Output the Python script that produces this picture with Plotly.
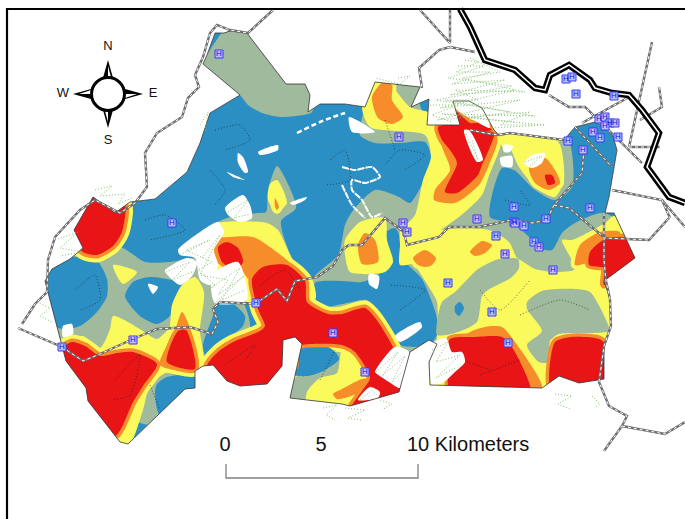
import plotly.graph_objects as go

OUTLINE = [(203,64),(207,55),(215,33),(224,33),(230,31),(247,33),(286,84),(305,84),(310,95),(308,112),(320,104),(345,104),(365,107),(375,82),(420,87),(411,107),(429,99),(427,125),(460,125),(453,101),(469,101),(482,108),(494,130),(499,135),(510,133),(564,140),(575,127),(595,122),(605,127),(612,133),(617,150),(612,180),(609,197),(605,213),(614,213),(635,258),(604,281),(610,299),(611,326),(604,346),(604,379),(579,383),(559,376),(542,388),(430,385),(429,362),(437,344),(429,340),(410,352),(399,392),(350,406),(342,404),(290,398),(302,344),(295,337),(283,340),(282,366),(267,384),(240,386),(227,381),(213,365),(203,366),(195,371),(195,388),(185,389),(128,444),(120,442),(88,401),(86,388),(66,361),(49,296),(45,281),(52,269),(70,259),(83,248),(74,230),(93,197),(115,213),(130,202),(155,199),(187,172),(200,143),(210,113),(240,95)]

SAGE = [
 [(203,64),(207,55),(220,35),(224,30),(247,30),(290,80),(315,84),(312,112),(296,116),(280,117),(262,113),(248,105),(240,95)],
 [(45,270),(75,255),(120,247),(145,262),(170,262),(200,258),(240,295),(250,330),(215,372),(195,395),(155,425),(60,385),(40,330)],
 [(277,166),(284,176),(296,208),(281,221),(293,260),(313,282),(320,300),(240,300),(190,250),(203,230),(227,218),(257,213),(266,212),(268,190)],
 [(365,107),(375,78),(424,84),(420,105),(430,120),(494,130),(566,135),(572,187),(555,200),(535,190),(514,170),(502,168),(490,217),(512,223),(529,237),(539,248),(552,250),(562,233),(575,223),(605,213),(640,250),(640,415),(285,415),(285,340),(310,345),(312,280),(338,255),(345,225),(352,212),(375,190),(399,197),(410,203),(424,180),(431,157),(425,142),(399,143),(375,143),(360,135)],
]
BLUE_LOBES = [
 [(40,272),(72,257),(97,261),(107,279),(107,296),(97,312),(80,326),(62,329),(45,320)],
 [(125,296),(133,282),(150,277),(182,284),(180,296),(170,316),(157,324),(140,316)],
 [(203,346),(213,316),(217,304),(233,304),(245,316),(243,326),(227,339),(213,352),(208,364)],
 [(155,392),(157,384),(167,377),(200,375),(200,395),(160,415)],
 [(292,374),(298,343),(317,342),(333,350),(339,359),(323,371),(307,376)],
 [(315,283),(342,281),(362,282),(378,275),(389,262),(389,250),(385,233),(395,228),(403,245),(404,260),(422,279),(437,318),(437,335),(429,345),(400,345),(380,316),(367,300),(342,304),(315,308)],
 [(455,306),(460,302),(464,308),(459,316),(455,312)],
]
YELLOW = [
 [(375,80),(388,82),(410,107),(430,113),(438,127),(442,150),(444,180),(438,205),(432,230),(420,260),(400,265),(400,245),(400,232),(415,215),(423,180),(431,157),(425,135),(370,127),(362,107)],
 [(155,365),(195,365),(203,372),(168,372),(150,385),(143,410),(128,447),(110,432)],
 [(182,285),(195,277),(204,292),(200,330),(203,368),(160,370),(170,325),(172,305)],
 [(60,343),(83,336),(100,348),(110,329),(113,316),(128,322),(143,331),(157,339),(170,328),(177,325),(172,345),(157,356),(133,348),(100,358),(60,355)],
 [(113,265),(137,272),(123,284)],
 [(270,184),(277,180),(287,203),(277,212),(268,200)],
 [(203,233),(217,223),(267,223),(278,230),(293,260),(313,282),(315,300),(240,300),(200,262)],
 [(345,240),(360,222),(385,218),(387,240),(393,262),(385,272),(350,272),(345,255)],
 [(509,137),(539,136),(559,143),(564,180),(555,197),(539,190),(519,167)],
 [(409,237),(424,233),(459,228),(489,230),(509,242),(517,258),(522,261),(535,269),(555,272),(575,269),(562,240),(572,240),(605,223),(614,216),(645,262),(640,415),(430,410),(437,336),(437,302),(432,292),(422,276),(412,259)],
 [(307,392),(320,378),(337,373),(342,350),(352,352),(369,378),(350,410),(307,408)],
 [(435,130),(497,133),(494,150),(489,175),(482,195),(465,212),(448,225),(430,235),(425,205),(440,180)],
 [(499,135),(562,140),(505,150)],
]
SAGE_OVER = [
 [(442,302),(455,292),(478,269),(499,259),(518,259),(519,268),(512,277),(488,290),(482,296),(477,322),(455,333),(437,335),(437,322)],
 [(527,302),(542,291),(575,289),(590,292),(607,322),(609,331),(559,334),(550,341),(549,362),(539,362),(527,345),(542,331),(527,309)],
]
ORANGE = [
 [(382,83),(392,85),(392,100),(403,117),(392,124),(378,118),(372,97)],
 [(230,237),(253,237),(287,260),(307,279),(252,282),(240,269),(215,262),(208,240)],
 [(439,129),(497,137),(489,165),(479,185),(455,203),(434,200),(435,190),(450,170),(442,147)],
 [(358,245),(365,233),(375,240),(378,262),(362,264)],
 [(529,168),(545,158),(555,170),(560,183),(549,190),(535,183)],
 [(470,252),(482,241),(492,245),(485,253),(475,256)],
 [(413,258),(425,250),(436,258),(432,265),(425,267),(418,265)],
 [(467,334),(485,327),(502,327),(515,342),(542,387),(529,395),(465,345)],
 [(333,394),(342,389),(362,379),(369,379),(360,392),(345,398),(337,399)],
 [(182,312),(190,328),(198,370),(160,365),(175,330)],
 [(275,198),(279,207),(277,210),(275,207)],
 [(575,265),(580,245),(600,232),(620,232),(610,250),(590,262)],
]
RED = [
 [(66,229),(93,188),(115,205),(125,205),(122,232),(113,246),(97,255),(83,252)],
 [(58,365),(60,350),(72,342),(85,346),(100,356),(117,353),(133,352),(157,364),(143,386),(133,402),(115,436),(80,405),(75,385)],
 [(178,331),(186,330),(195,369),(167,362)],
 [(252,279),(263,267),(287,265),(305,281),(307,302),(328,314),(342,314),(365,308),(376,319),(393,347),(396,358),(402,395),(350,410),(362,391),(370,378),(355,352),(342,345),(302,345),(295,350),(295,366),(267,392),(240,395),(222,390),(207,366),(218,352),(233,342),(260,331),(265,326),(258,309)],
 [(218,247),(227,242),(238,248),(243,262),(235,270),(222,262)],
 [(438,127),(461,125),(470,130),(494,133),(490,147),(482,165),(478,175),(457,193),(445,192),(457,163),(450,150),(442,140)],
 [(457,112),(470,123),(480,123),(492,130),(470,131),(458,122)],
 [(545,175),(552,175),(555,183),(548,185)],
 [(589,265),(590,252),(605,239),(625,238),(640,258),(604,285),(604,268)],
 [(450,339),(475,337),(502,337),(512,347),(531,395),(475,395),(450,392),(448,359)],
 [(555,342),(572,337),(599,339),(608,347),(608,390),(579,395),(559,390),(550,385)],
]
WHITE_PATCHES = [
 [(225,208),(243,195),(250,205),(252,218),(240,222),(228,215)],
 [(178,250),(200,232),(218,222),(224,232),(214,250),(218,265),(210,285),(200,280),(195,258),(180,255)],
 [(212,275),(238,262),(247,300),(215,303)],
 [(258,152),(278,145),(278,150),(260,155)],
 [(238,153),(243,157),(248,172),(245,173),(238,163)],
 [(227,172),(245,180),(233,177)],
 [(290,203),(307,197),(305,200),(293,205)],
 [(165,270),(187,258),(197,262),(192,276),(180,285),(165,272)],
 [(349,117),(375,132),(352,132)],
 [(453,101),(469,101),(482,108),(490,128),(475,121),(457,110)],
 [(464,130),(469,130),(483,160),(477,162),(469,147)],
 [(503,145),(513,146),(510,152),(504,152)],
 [(500,158),(512,156),(512,167),(502,166)],
 [(524,163),(532,155),(545,153),(542,163),(532,168)],
 [(63,326),(72,324),(73,334),(63,337)],
 [(148,284),(158,287),(153,294)],
 [(375,372),(395,347),(409,352),(400,388),(389,382),(377,374)],
 [(358,400),(370,387),(380,392),(378,398)],
 [(395,336),(420,322),(422,327),(400,342)],
 [(432,344),(446,338),(452,352),(462,352),(465,362),(455,372),(444,382),(432,385)],
 [(369,274),(379,276),(377,289),(369,284)],
]
WHITE_STRIPS = [
 [(297,133),(320,122),(333,117),(345,113)],
 [(342,167),(355,170),(372,167),(380,177),(365,183),(352,180),(352,190),(362,200),(372,217),(382,213)],
 [(342,185),(352,205),(365,218)],
]
VEGETATION = [
 [(465,60),(478,62),(456,72),(490,72),(452,84),(505,80),(450,95),(515,90),(440,108),(520,100),(437,120),(530,112),(500,125),(535,125)],
 [(470,58),(500,72),(462,78),(525,92),(455,90),(478,100),(445,100),(510,112),(470,118),(545,125),(490,128)],
 [(458,66),(484,66),(448,78),(512,86),(436,100),(535,116),(442,114),(515,122)],
 [(95,190),(112,186),(100,196),(125,194),(118,204),(132,198)],
 [(55,240),(78,232),(60,248),(82,252),(60,256)],
 [(345,408),(365,410),(348,418),(362,420)],
 [(380,400),(392,404),(382,410)],
 [(555,394),(572,396),(558,404),(570,409)],
 [(592,396),(600,404),(594,408)],
 [(323,408),(337,405),(326,415),(335,420)],
 [(37,302),(50,308),(40,316),(52,322)],
 [(200,125),(208,112),(205,132)],
 [(398,78),(410,76),(400,84),(375,78)],
 [(180,255),(210,240),(186,250),(212,262),(198,270),(215,285),(205,292),(240,268),(222,300),(245,290)],
 [(202,258),(220,235),(200,275),(228,280),(218,295),(244,276),(216,302)],
 [(228,212),(248,200),(234,218),(250,214)],
 [(376,372),(398,352),(382,376),(405,356),(392,382),(402,372)],
 [(432,350),(448,342),(436,362),(460,355),(436,378),(455,368)],
 [(360,400),(372,390),(378,396)],
 [(430,105),(458,105),(432,115),(452,122)],
 [(166,272),(190,262),(172,280),(192,272)],
 [(466,134),(478,160),(472,140)],
 [(525,162),(542,156),(530,166)],
]
ROADS = [
 [(273,10),(248,33),(230,30),(217,25),(210,33),(203,57),(195,75),(199,87),(188,98),(182,117),(157,133),(145,153),(147,187),(135,203),(120,213),(95,200),(80,210),(55,237),(48,260),(47,292),(35,304),(22,324)],
 [(18,328),(62,347),(83,361),(100,354),(133,339),(157,329),(190,327),(212,334),(218,322),(213,309),(220,302),(255,304),(277,289),(287,301),(295,281),(317,277),(333,266),(342,250),(349,245),(362,245),(385,218),(404,232),(407,245),(439,237),(449,227),(479,227),(512,220),(532,223),(547,220),(554,205),(582,173),(584,150)],
 [(554,205),(569,208),(605,238),(649,240),(669,218)],
 [(420,10),(450,43),(450,10)],
 [(450,47),(439,50),(419,68),(422,88)],
 [(450,47),(475,52)],
 [(470,130),(485,133),(499,135),(510,133),(564,140)],
 [(549,95),(569,107),(585,107),(605,127),(642,163)],
 [(575,127),(612,167)],
 [(582,123),(629,97)],
 [(629,147),(652,42)],
 [(612,190),(662,200),(685,227)],
 [(662,200),(670,218)],
 [(629,147),(660,147)],
 [(659,87),(662,107),(640,120)],
 [(604,213),(604,260),(606,281),(610,299),(611,326),(604,346),(599,382),(609,406),(627,416),(622,426),(604,451)],
 [(622,426),(665,434),(685,422)],
]
HIGHWAY = [(460,9),(470,27),(485,60),(515,70),(535,88),(545,90),(550,75),(569,65),(590,80),(595,88),(612,93),(629,95),(642,110),(659,133),(652,153),(647,167),(669,197),(685,203)]
TRACKS = [
 [(215,130),(240,125),(250,140),(225,150)],[(330,160),(345,150),(350,180),(325,185)],
 [(210,170),(225,190),(215,205)],[(75,290),(95,275),(100,300),(80,310)],
 [(145,220),(165,215),(185,230),(150,240)],[(115,380),(140,355),(130,395),(112,400)],
 [(260,285),(285,270),(300,290)],[(405,170),(425,155),(400,150),(385,165)],
 [(385,120),(395,150)],[(400,310),(425,290),(390,285)],[(480,290),(500,310),(530,280)],
 [(520,315),(560,300),(590,310)],[(480,375),(520,360)],[(505,200),(530,205),(520,190)],
 [(225,365),(255,345),(245,360)],[(150,385),(160,410)],[(320,380),(335,350)],[(450,355),(490,370)],
]
H_X = [219,172,399,403,407,496,505,514,477,514,515,524,546,534,539,590,568,583,566,572,576,614,599,605,610,615,605,593,600,618,62,133,256,333,448,553,492,508,365]
H_Y = [54,223,137,223,232,236,254,207,219,222,223,226,219,242,247,208,141,150,79,77,94,96,119,117,123,123,126,132,138,137,347,340,303,333,283,270,312,343,372]
COMPASS_SPIKES = [
 [(108,60),(103,78),(113,78)],[(108,128),(103,110),(113,110)],
 [(73,94),(91,89),(91,99)],[(143,94),(125,89),(125,99)],
]
COMPASS_SLIVERS = [
 [(108,66),(108,77),(111,77)],[(108,122),(108,111),(105,111)],
 [(79,94),(91,94),(91,90)],[(137,94),(125,94),(125,98)],
]
COMPASS_LABELS = ["N","S","W","E"]
COMPASS_X = [108,108,63,153]
COMPASS_Y = [47,141,94,94]
SCALE_LABELS = ["0","5","10 Kilometers"]
SCALE_X = [225,321,407]
SCALE_Y = [446,446,446]
SCALE_BAR = [(226,464),(226,478),(418,478),(418,464)]
FRAME = [(7,519),(7,9),(685,9)]
BLUE,SAGE_C,YEL,ORG,REDC = "#2b8fc4","#9fba9c","#fafa5c","#f78c2b","#e81416"

fig = go.Figure()
def xy(p, close=False):
    p = list(p) + ([p[0]] if close else [])
    return [a for a,_ in p],[b for _,b in p]
def poly(p, color, halo=0, spline=True):
    x,y = xy(p, True)
    fig.add_trace(go.Scatter(x=x,y=y,mode="lines",fill="toself",fillcolor=color,
        line=dict(color=color,width=max(halo,0.01),shape="spline" if spline else "linear",smoothing=0.7),hoverinfo="skip"))
def path(p, color, width, dash=None, spline=False):
    x,y = xy(p)
    fig.add_trace(go.Scatter(x=x,y=y,mode="lines",line=dict(color=color,width=width,dash=dash,shape="spline" if spline else "linear",smoothing=0.6),hoverinfo="skip"))

poly(OUTLINE,BLUE,0,False)
for p in SAGE: poly(p,SAGE_C,0)
for p in BLUE_LOBES: poly(p,BLUE,0)
for p in YELLOW: poly(p,YEL,0)
for p in ORANGE: poly(p,YEL,8)
for p in RED: poly(p,YEL,15)
for p in SAGE_OVER: poly(p,SAGE_C,0)
for p in BLUE_LOBES[-1:]: poly(p,BLUE,0)
poly(BLUE_LOBES[4],BLUE,0)
for p in ORANGE: poly(p,ORG,0)
for p in RED: poly(p,ORG,7)
for p in RED: poly(p,REDC,0)
for p in TRACKS: path(p,"#222222",0.7,"1px,2px",True)
for p in WHITE_PATCHES: poly(p,"white",0)
path(WHITE_STRIPS[0],"white",2.5,"5px,3px",True)
for p in WHITE_STRIPS[1:]: path(p,"white",2,"7px,1px",True)

# white mask outside the study area
rx,ry = [0,0,685,685,0],[0,519,519,0,0]
ox,oy = xy(OUTLINE,True)
fig.add_trace(go.Scatter(x=rx+[None]+ox,y=ry+[None]+oy,mode="lines",fill="toself",fillcolor="white",line=dict(width=0),hoverinfo="skip"))
path(OUTLINE+[OUTLINE[0]],"#333333",0.8)
for p in VEGETATION: path(p,"#86c070",1,"1px,2px")
for p in ROADS:
    path(p,"#6e6e6e",2.4)
    path(p,"#ffffff",1,"3px,3px")
path(HIGHWAY,"#000000",6.5)
path(HIGHWAY,"#ffffff",1.5)
fig.add_trace(go.Scatter(x=H_X,y=H_Y,mode="markers+text",text=["H"]*len(H_X),textposition="middle center",
    textfont=dict(family="Liberation Sans",size=8,color="#1010d0"),
    marker=dict(symbol="square",size=8,color="#bcbcff",line=dict(color="#3a3af0",width=1)),hoverinfo="skip"))
for p in COMPASS_SPIKES: poly(p,"black",0,False)
for p in COMPASS_SLIVERS: poly(p,"white",0,False)
fig.add_trace(go.Scatter(x=[108],y=[94],mode="markers",marker=dict(size=33,color="white",line=dict(color="black",width=3)),hoverinfo="skip"))
fig.add_trace(go.Scatter(x=COMPASS_X,y=COMPASS_Y,mode="text",text=COMPASS_LABELS,textposition="middle center",
    textfont=dict(family="Liberation Sans",size=13,color="#111111"),hoverinfo="skip"))
fig.add_trace(go.Scatter(x=SCALE_X,y=SCALE_Y,mode="text",text=SCALE_LABELS,textposition=["middle center","middle center","middle right"],
    textfont=dict(family="Liberation Sans",size=20,color="#111111"),hoverinfo="skip"))
path(SCALE_BAR,"#808080",1.3)
path(FRAME,"#000000",2.2)

fig.update_layout(width=685,height=519,margin=dict(l=0,r=0,t=0,b=0),showlegend=False,
    paper_bgcolor="white",plot_bgcolor="white",
    xaxis=dict(range=[0,685],visible=False,fixedrange=True),
    yaxis=dict(range=[519,0],visible=False,fixedrange=True))
fig.write_html("out.html",config=dict(displayModeBar=False),post_script="document.body.style.margin='0';document.body.style.overflow='hidden';")
